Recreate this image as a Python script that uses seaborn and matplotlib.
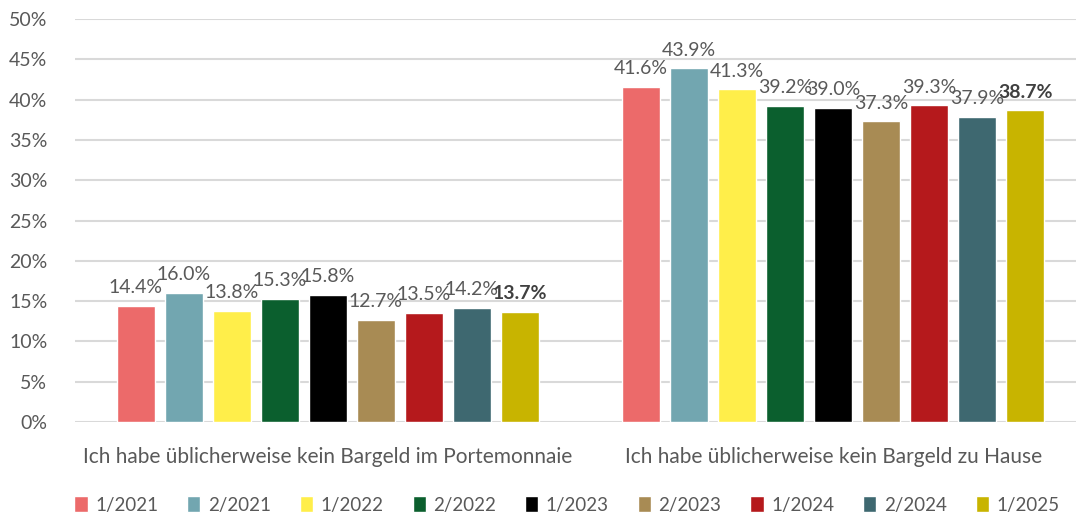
import pandas as pd
import matplotlib.pyplot as plt
import seaborn as sns
from matplotlib.ticker import FuncFormatter

# Survey waves and the two statements
waves = ['1/2021', '2/2021', '1/2022', '2/2022', '1/2023',
         '2/2023', '1/2024', '2/2024', '1/2025']
statements = ['Ich habe üblicherweise kein Bargeld im Portemonnaie',
              'Ich habe üblicherweise kein Bargeld zu Hause']
wallet = [14.4, 16.0, 13.8, 15.3, 15.8, 12.7, 13.5, 14.2, 13.7]
home = [41.6, 43.9, 41.3, 39.2, 39.0, 37.3, 39.3, 37.9, 38.7]
colors = ['#EC6A6A', '#72A6B0', '#FFEE4A', '#0B5F2E', '#000000',
          '#A88B54', '#B5191C', '#3E6870', '#C8B400']

df = pd.DataFrame({
    'statement': [statements[0]] * len(waves) + [statements[1]] * len(waves),
    'wave': waves + waves,
    'value': wallet + home,
})

sns.set_style('white')
plt.rcParams['font.family'] = ['Lato', 'DejaVu Sans']
text_color = '#595959'

fig, ax = plt.subplots(figsize=(10.76, 5.19), dpi=100)
sns.barplot(data=df, x='statement', y='value', hue='wave', hue_order=waves,
            order=statements, palette=colors, width=0.855, gap=0.21,
            saturation=1, ax=ax, legend=True)

ax.set_ylim(0, 50)
ax.set_xlim(-0.5, 1.48)
ax.set_yticks(range(0, 51, 5))
ax.yaxis.set_major_formatter(FuncFormatter(lambda v, _: f'{v:.0f}%'))
ax.grid(axis='y', color='#D9D9D9', linewidth=1.5)
ax.set_axisbelow(True)
for s in ax.spines.values():
    s.set_visible(False)
ax.tick_params(axis='both', length=0, labelsize=14, labelcolor=text_color)
ax.tick_params(axis='x', pad=18, labelsize=15)
ax.tick_params(axis='y', pad=20)
ax.set_xlabel('')
ax.set_ylabel('')

# Value labels above bars; last wave bold
for i, cont in enumerate(ax.containers):
    labels = ax.bar_label(cont, fmt='%.1f%%', padding=7, fontsize=14,
                          color=text_color)
    if i == len(ax.containers) - 1:
        for lab in labels:
            lab.set_fontweight('bold')
            lab.set_color('#404040')

leg = ax.legend(loc='center', bbox_to_anchor=(0.4915, -0.206), ncol=9,
                frameon=False, fontsize=13.5, handlelength=0.7,
                handleheight=0.9, handletextpad=0.4, columnspacing=1.55)
for t in leg.get_texts():
    t.set_color(text_color)

fig.subplots_adjust(left=0.0697, right=1.0, top=0.963, bottom=0.187)
fig.savefig('out.png', dpi=100)
